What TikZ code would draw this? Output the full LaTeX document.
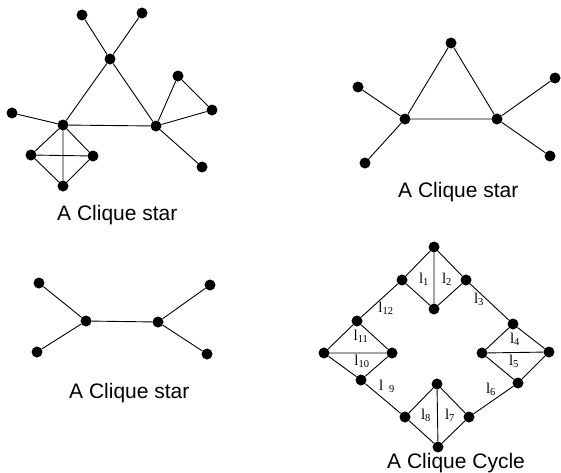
\documentclass[tikz,border=0pt]{standalone}
\usepackage{fontspec}
\setmainfont{Liberation Serif}
\newfontfamily\capfont{Liberation Sans}
\begin{document}
\begin{tikzpicture}[x=1pt,y=-1pt,
  v/.style={circle,fill=black,inner sep=0pt,minimum size=11pt},
  e/.style={line width=0.9pt},
  captxt/.style={anchor=base west,inner sep=0pt,font=\capfont\fontsize{21}{25}\selectfont},
  lab/.style={inner sep=0pt,font=\fontsize{15}{18}\selectfont}]
\useasboundingbox (0,0) rectangle (561,472);

% ---------- top-left clique star ----------
\node[v] (a1) at (82,15) {};
\node[v] (a2) at (142,13) {};
\node[v] (ac) at (110,59) {};
\node[v] (aL) at (63,125) {};
\node[v] (aR) at (156,126) {};
\node[v] (aw) at (12,113) {};
\node[v] (aq1) at (178,76) {};
\node[v] (aq2) at (212,110) {};
\node[v] (abr) at (202,167) {};
\node[v] (ak1) at (31,155) {};
\node[v] (ak2) at (93,156) {};
\node[v] (ak3) at (63,186) {};
\draw[e] (a1)--(ac) (a2)--(ac) (ac)--(aL) (ac)--(aR) (aL)--(aR) (aw)--(aL)
  (aR)--(aq1) (aq1)--(aq2) (aq2)--(aR) (aR)--(abr)
  (aL)--(ak1) (aL)--(ak2) (aL)--(ak3) (ak1)--(ak2) (ak1)--(ak3) (ak2)--(ak3);
\node[captxt] (capA) at (57,220) {A Clique star};

% ---------- top-right clique star ----------
\node[v] (bt) at (451,43) {};
\node[v] (bL) at (405,119) {};
\node[v] (bR) at (497,119) {};
\node[v] (bl1) at (358,87) {};
\node[v] (bl2) at (365,163) {};
\node[v] (br1) at (555,78) {};
\node[v] (br2) at (550,156) {};
\draw[e] (bt)--(bL) (bt)--(bR) (bL)--(bR) (bl1)--(bL) (bl2)--(bL) (br1)--(bR) (br2)--(bR);
\node[captxt] (capB) at (398,197) {A Clique star};

% ---------- bottom-left clique star ----------
\node[v] (cl1) at (39,283) {};
\node[v] (cl2) at (37,352) {};
\node[v] (cL) at (86,321) {};
\node[v] (cR) at (158,322) {};
\node[v] (cr1) at (210,285) {};
\node[v] (cr2) at (207,354) {};
\draw[e] (cl1)--(cL) (cl2)--(cL) (cL)--(cR) (cr1)--(cR) (cr2)--(cR);
\node[captxt] (capC) at (69,398) {A Clique star};

% ---------- bottom-right clique cycle ----------
\node[v] (dt) at (434,247) {};
\node[v] (dtl) at (402,280) {};
\node[v] (dtr) at (466,280) {};
\node[v] (dtb) at (434,309) {};
\node[v] (drt) at (513,324) {};
\node[v] (drl) at (482,353) {};
\node[v] (drr) at (549,352) {};
\node[v] (drb) at (518,383) {};
\node[v] (dbt) at (437,384) {};
\node[v] (dbl) at (405,417) {};
\node[v] (dbr) at (469,417) {};
\node[v] (dbb) at (438,447) {};
\node[v] (dlt) at (357,321) {};
\node[v] (dll) at (324,353) {};
\node[v] (dlr) at (392,353) {};
\node[v] (dlb) at (361,380) {};
\draw[e] (dt)--(dtl) (dt)--(dtr) (dt)--(dtb) (dtl)--(dtb) (dtr)--(dtb)
  (dtr)--(drt)
  (drt)--(drl) (drt)--(drr) (drl)--(drr) (drl)--(drb) (drr)--(drb)
  (drb)--(dbr)
  (dbr)--(dbt) (dbr)--(dbb) (dbt)--(dbb) (dbl)--(dbt) (dbl)--(dbb)
  (dbl)--(dlb)
  (dlb)--(dll) (dlb)--(dlr) (dll)--(dlr) (dlt)--(dll) (dlt)--(dlr)
  (dlt)--(dtl);
\node[lab] (l1) at (424,279) {l\textsubscript{1}};
\node[lab] (l2) at (447,279) {l\textsubscript{2}};
\node[lab] (l3) at (479,299) {l\textsubscript{3}};
\node[lab] (l4) at (515,339) {l\textsubscript{4}};
\node[lab] (l5) at (514,361) {l\textsubscript{5}};
\node[lab] (l6) at (491,389) {l\textsubscript{6}};
\node[lab] (l7) at (450,415) {l\textsubscript{7}};
\node[lab] (l8) at (426,415) {l\textsubscript{8}};
\node[lab] (l9) at (387,386) {l\hspace{6pt}\textsubscript{9}};
\node[lab] (l10) at (362,361) {l\textsubscript{10}};
\node[lab] (l11) at (361,336) {l\textsubscript{11}};
\node[lab] (l12) at (386,308) {l\textsubscript{12}};
\node[captxt] (capD) at (387,468) {A Clique Cycle};
\end{tikzpicture}
\end{document}
